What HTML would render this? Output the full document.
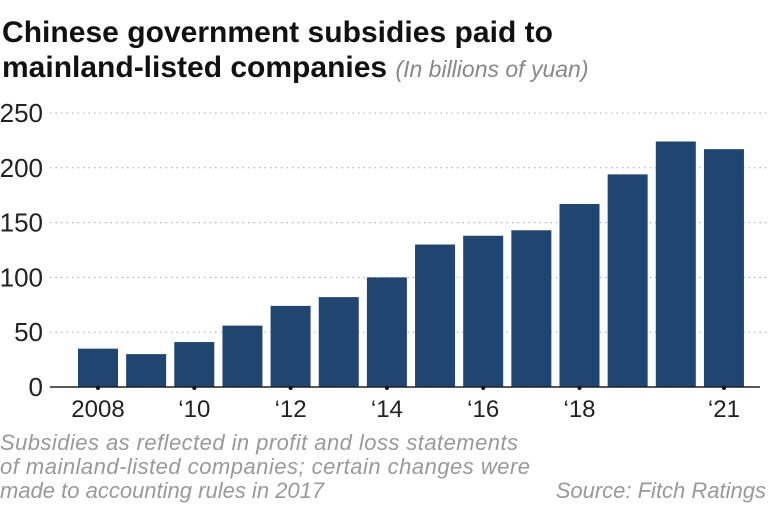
<!DOCTYPE html>
<html><head><meta charset="utf-8"><style>
body{margin:0;width:769px;height:514px;background:#fff;overflow:hidden;font-family:"Liberation Sans",sans-serif;}
</style></head><body>
<svg width="769" height="514">
<text x="2" y="42" font-size="30" font-weight="bold" fill="#111" textLength="551">Chinese government subsidies paid to</text>
<text x="2" y="77" font-size="30" font-weight="bold" fill="#111">mainland-listed companies <tspan font-size="23" font-weight="normal" font-style="italic" fill="#888">(In billions of yuan)</tspan></text>
<g id="grid"></g><g id="bars"></g><g id="axis"></g>
<text x="0" y="450" font-size="22" font-style="italic" fill="#999" textLength="518">Subsidies as reflected in profit and loss statements</text>
<text x="0" y="474" font-size="22" font-style="italic" fill="#999" textLength="530">of mainland-listed companies; certain changes were</text>
<text x="0" y="498" font-size="22" font-style="italic" fill="#999">made to accounting rules in 2017</text>
<text x="766" y="498" font-size="22" font-style="italic" fill="#999" text-anchor="end">Source: Fitch Ratings</text>
</svg>
<script>
const years=[2008,2009,2010,2011,2012,2013,2014,2015,2016,2017,2018,2019,2020,2021];
const values=[35,30,41,56,74,82,100,130,138,143,167,194,224,217];
const yTicks=[0,50,100,150,200,250];
const xLabels=["2008","","'10","","'12","","'14","","'16","","'18","","","'21"];
const NS="http://www.w3.org/2000/svg";
const y0=387,k=274/250;
const y=v=>y0-v*k;
const x=i=>98+i*48.15;
function mk(t,a,p){const e=document.createElementNS(NS,t);for(const n in a)e.setAttribute(n,a[n]);p.appendChild(e);return e;}
const g=document.getElementById('grid'),b=document.getElementById('bars'),ax=document.getElementById('axis');
yTicks.forEach(v=>{
 if(v>0){const l=mk('line',{x1:50,x2:769,y1:y(v),y2:y(v),stroke:'#aaa','stroke-dasharray':'1.5,4'},g);
 
 }
 const t=mk('text',{x:43,y:y(v)+9,'font-size':26,fill:'#222','text-anchor':'end'},g);t.textContent=v;
 
 
});
values.forEach((v,i)=>{
 const r=mk('rect',{x:x(i)-20,y:y(v),width:40,height:v*k,fill:'#1f4570'},b);
 
 
});
const base=mk('line',{x1:50,x2:760,y1:y0,y2:y0,stroke:'#222','stroke-width':1.5},ax);


xLabels.forEach((s,i)=>{
 if(!s)return;
 const d=mk('circle',{cx:x(i),cy:y0+1,r:2,fill:'#111'},ax);
 
 
 const t=mk('text',{x:x(i),y:417,'font-size':24,fill:'#222','text-anchor':'middle'},ax);t.textContent=s.replace("'","\u2018");
 
 
});
</script>
</body></html>
